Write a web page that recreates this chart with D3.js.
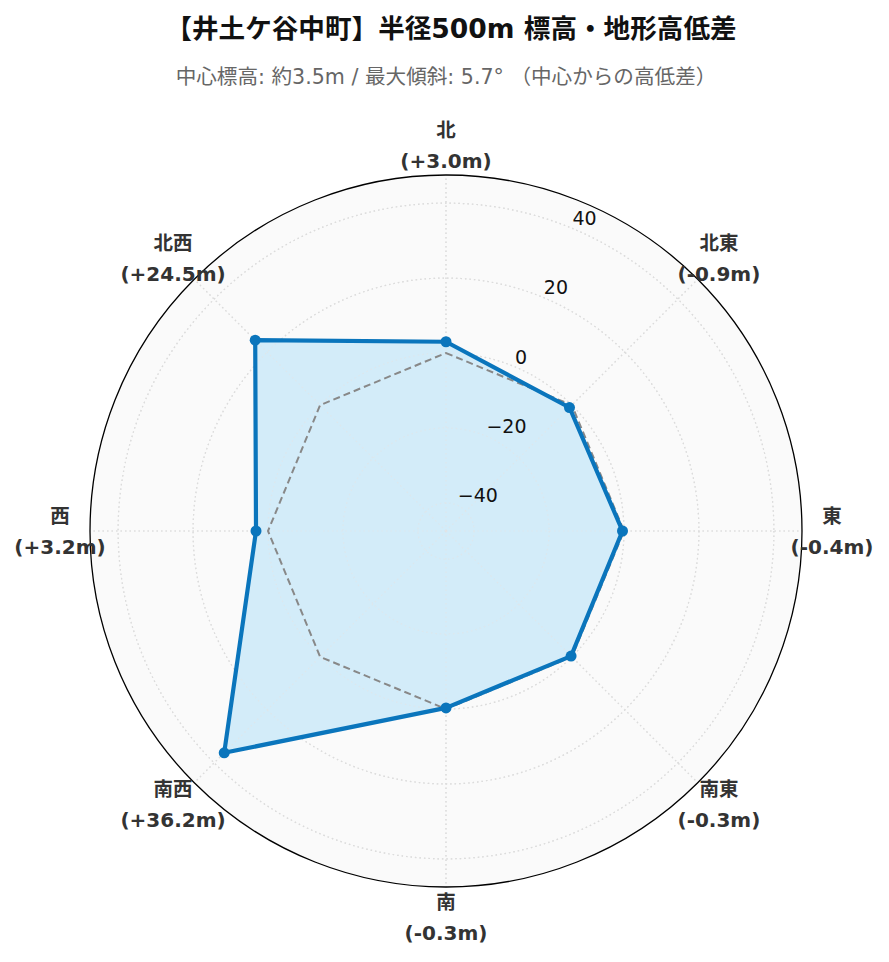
<!DOCTYPE html>
<html><head><meta charset="utf-8">
<script src="https://cdn.jsdelivr.net/npm/d3@7"></script>
<style>html,body{margin:0;padding:0;background:#fff;}</style>
</head><body>
<script>
const directions = ["北","北東","東","南東","南","南西","西","北西"];
const diffs = [3.0, -0.9, -0.4, -0.3, -0.3, 36.2, 3.2, 24.5];
const diffLabels = ["(+3.0m)","(-0.9m)","(-0.4m)","(-0.3m)","(-0.3m)","(+36.2m)","(+3.2m)","(+24.5m)"];
const baseline = [0,0,0,0,0,0,0,0];
const rTicks = [-40,-20,0,20,40];
const rDomain = [-47.5, 47.5];
const titleText = "【井土ケ谷中町】半径500m 標高・地形高低差";
const subtitleText = "中心標高: 約3.5m / 最大傾斜: 5.7° （中心からの高低差）";

const W = 889, H = 962, cx = 446, cy = 531, R = 356;
const svg = d3.select("body").append("svg").attr("width", W).attr("height", H);
const r = d3.scaleLinear().domain(rDomain).range([0, R]);
const ang = d3.scaleLinear().domain([0, directions.length]).range([0, 2*Math.PI]);
const g = svg.append("g").attr("transform", `translate(${cx},${cy})`);

svg.append("text").attr("x", 451).attr("y", 38).attr("text-anchor","middle")
  .attr("font-family","DejaVu Sans, Noto Sans CJK JP").attr("font-weight","bold").attr("font-size",26.6)
  .attr("fill","#111").text(titleText);
svg.append("text").attr("x", 446).attr("y", 84).attr("text-anchor","middle")
  .attr("font-family","DejaVu Sans, Noto Sans CJK JP").attr("font-size",20.6)
  .attr("fill","#666").text(subtitleText);

g.append("circle").attr("r", R).attr("fill","#fafafa");

g.selectAll(".ring").data(rTicks).join("circle")
  .attr("r", d => r(d)).attr("fill","none").attr("stroke","#d0d0d0")
  .attr("stroke-width",1.2).attr("stroke-dasharray","1.5,3");
g.selectAll(".spoke").data(directions).join("line")
  .attr("x1",0).attr("y1",0)
  .attr("x2",(d,i)=>R*Math.sin(ang(i))).attr("y2",(d,i)=>-R*Math.cos(ang(i)))
  .attr("stroke","#d0d0d0").attr("stroke-width",1.2).attr("stroke-dasharray","1.5,3");

const radial = d3.lineRadial().angle((d,i)=>ang(i)).radius(d=>r(d)).curve(d3.curveLinearClosed);

g.append("path").attr("d", radial(diffs)).attr("fill","#d3ecf9").attr("stroke","none");
g.selectAll(".ring2").data(rTicks).join("circle")
  .attr("r", d => r(d)).attr("fill","none").attr("stroke","#e4e4e4").attr("stroke-opacity",0.6)
  .attr("stroke-width",1.2).attr("stroke-dasharray","1.5,3");
g.selectAll(".spoke2").data(directions).join("line")
  .attr("x1",0).attr("y1",0)
  .attr("x2",(d,i)=>R*Math.sin(ang(i))).attr("y2",(d,i)=>-R*Math.cos(ang(i)))
  .attr("stroke","#e4e4e4").attr("stroke-opacity",0.6).attr("stroke-width",1.2).attr("stroke-dasharray","1.5,3");

g.append("path").attr("d", radial(baseline)).attr("fill","none")
  .attr("stroke","#888").attr("stroke-width",2).attr("stroke-dasharray","7,4");
g.append("path").attr("d", radial(diffs)).attr("fill","none")
  .attr("stroke","#0a75bc").attr("stroke-width",4.2).attr("stroke-linejoin","round");
g.selectAll(".pt").data(diffs).join("circle")
  .attr("cx",(d,i)=>r(d)*Math.sin(ang(i))).attr("cy",(d,i)=>-r(d)*Math.cos(ang(i)))
  .attr("r",5.5).attr("fill","#0a75bc");

g.append("circle").attr("r", R).attr("fill","none").attr("stroke","#000").attr("stroke-width",1.3);

const la = 22.5*Math.PI/180;
g.selectAll(".rt").data(rTicks).join("text")
  .attr("x", d => r(d)*Math.sin(la)+1).attr("y", d => -r(d)*Math.cos(la)-3)
  .attr("font-family","DejaVu Sans").attr("font-size",19).attr("fill","#111")
  .text(d => d < 0 ? "\u2212" + Math.abs(d) : d);

const labR = 386;
const lab = g.selectAll(".dl").data(directions).join("text")
  .attr("font-family","DejaVu Sans, Noto Sans CJK JP").attr("font-weight","bold")
  .attr("font-size",20).attr("fill","#333").attr("text-anchor","middle");
lab.append("tspan")
  .attr("x",(d,i)=>labR*Math.sin(ang(i))).attr("y",(d,i)=>-labR*Math.cos(ang(i))-8)
  .attr("font-size",19.5)
  .text(d=>d);
lab.append("tspan")
  .attr("x",(d,i)=>labR*Math.sin(ang(i))).attr("y",(d,i)=>-labR*Math.cos(ang(i))+23)
  .text((d,i)=>diffLabels[i]);
</script>
</body></html>
